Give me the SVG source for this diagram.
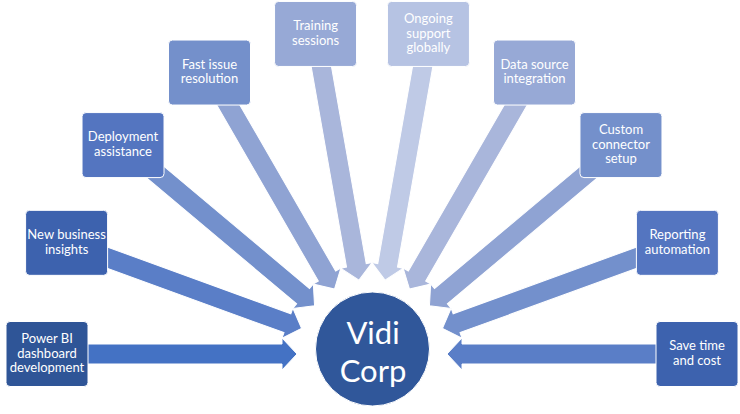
<svg xmlns="http://www.w3.org/2000/svg" width="740" height="414" viewBox="0 0 740 414">
<style>
.box{stroke:#fff;stroke-width:1}
.arr{stroke:#fff;stroke-width:1}
.t{font-family:Lato,"Liberation Sans",sans-serif;font-size:13px;fill:#fff;text-anchor:middle}
.c{font-family:Lato,"Liberation Sans",sans-serif;font-size:31px;fill:#fff;text-anchor:middle}
</style>
<defs>
<path id="ar" d="M47,344 H282 V338 L297,354 L282,370 V364 H47 Z"/>
</defs>
<rect width="740" height="414" fill="#fff"/>
<g id="connectors">
<use href="#ar" class="arr" fill="#4472C4" transform="rotate(0 372 354)"/>
<use href="#ar" class="arr" fill="#5A7EC7" transform="rotate(20 372 354)"/>
<use href="#ar" class="arr" fill="#7390CC" transform="rotate(40 372 354)"/>
<use href="#ar" class="arr" fill="#8FA3D3" transform="rotate(60 372 354)"/>
<use href="#ar" class="arr" fill="#A9B6DB" transform="rotate(80 372 354)"/>
<use href="#ar" class="arr" fill="#BFCAE6" transform="rotate(100 372 354)"/>
<use href="#ar" class="arr" fill="#A9B6DB" transform="rotate(120 372 354)"/>
<use href="#ar" class="arr" fill="#8FA3D3" transform="rotate(140 372 354)"/>
<use href="#ar" class="arr" fill="#7390CC" transform="rotate(160 372 354)"/>
<use href="#ar" class="arr" fill="#5A7EC7" transform="rotate(180 372 354)"/>
</g>
<g id="center">
<circle cx="372.5" cy="349" r="57" fill="#30579A" stroke="#fff" stroke-width="1"/>
<text class="c" x="373" y="344">Vidi</text>
<text class="c" x="373" y="381.8">Corp</text>
</g>
<g id="n1">
<rect class="box" x="6" y="321.5" width="82" height="65" rx="4" fill="#2F5597"/>
<text class="t" x="47" y="343">Power BI</text>
<text class="t" x="47" y="357.5">dashboard</text>
<text class="t" x="47" y="372">development</text>
</g>
<g id="n2">
<rect class="box" x="25.6" y="210.34" width="82" height="65" rx="4" fill="#3D62AE"/>
<text class="t" x="66.6" y="239.1">New business</text>
<text class="t" x="66.6" y="253.6">insights</text>
</g>
<g id="n3">
<rect class="box" x="82.03" y="112.59" width="82" height="65" rx="4" fill="#5475C0"/>
<text class="t" x="123" y="141.3">Deployment</text>
<text class="t" x="123" y="155.8">assistance</text>
</g>
<g id="n4">
<rect class="box" x="168.5" y="40.04" width="82" height="65" rx="4" fill="#7490CB"/>
<text class="t" x="209.5" y="68.8">Fast issue</text>
<text class="t" x="209.5" y="83.3">resolution</text>
</g>
<g id="n5">
<rect class="box" x="274.56" y="1.44" width="82" height="65" rx="4" fill="#97A9D6"/>
<text class="t" x="315.6" y="30.2">Training</text>
<text class="t" x="315.6" y="44.7">sessions</text>
</g>
<g id="n6">
<rect class="box" x="387.44" y="1.44" width="82" height="65" rx="4" fill="#B6C3E3"/>
<text class="t" x="428.4" y="23">Ongoing</text>
<text class="t" x="428.4" y="37.5">support</text>
<text class="t" x="428.4" y="52">globally</text>
</g>
<g id="n7">
<rect class="box" x="493.5" y="40.04" width="82" height="65" rx="4" fill="#97A9D6"/>
<text class="t" x="534.5" y="68.8">Data source</text>
<text class="t" x="534.5" y="83.3">integration</text>
</g>
<g id="n8">
<rect class="box" x="579.97" y="112.59" width="82" height="65" rx="4" fill="#7490CB"/>
<text class="t" x="621" y="134.1">Custom</text>
<text class="t" x="621" y="148.6">connector</text>
<text class="t" x="621" y="163.1">setup</text>
</g>
<g id="n9">
<rect class="box" x="636.4" y="210.34" width="82" height="65" rx="4" fill="#5475C0"/>
<text class="t" x="677.4" y="239.1">Reporting</text>
<text class="t" x="677.4" y="253.6">automation</text>
</g>
<g id="n10">
<rect class="box" x="656" y="321.5" width="82" height="65" rx="4" fill="#3D62AE"/>
<text class="t" x="697" y="350.3">Save time</text>
<text class="t" x="697" y="364.8">and cost</text>
</g>
</svg>
